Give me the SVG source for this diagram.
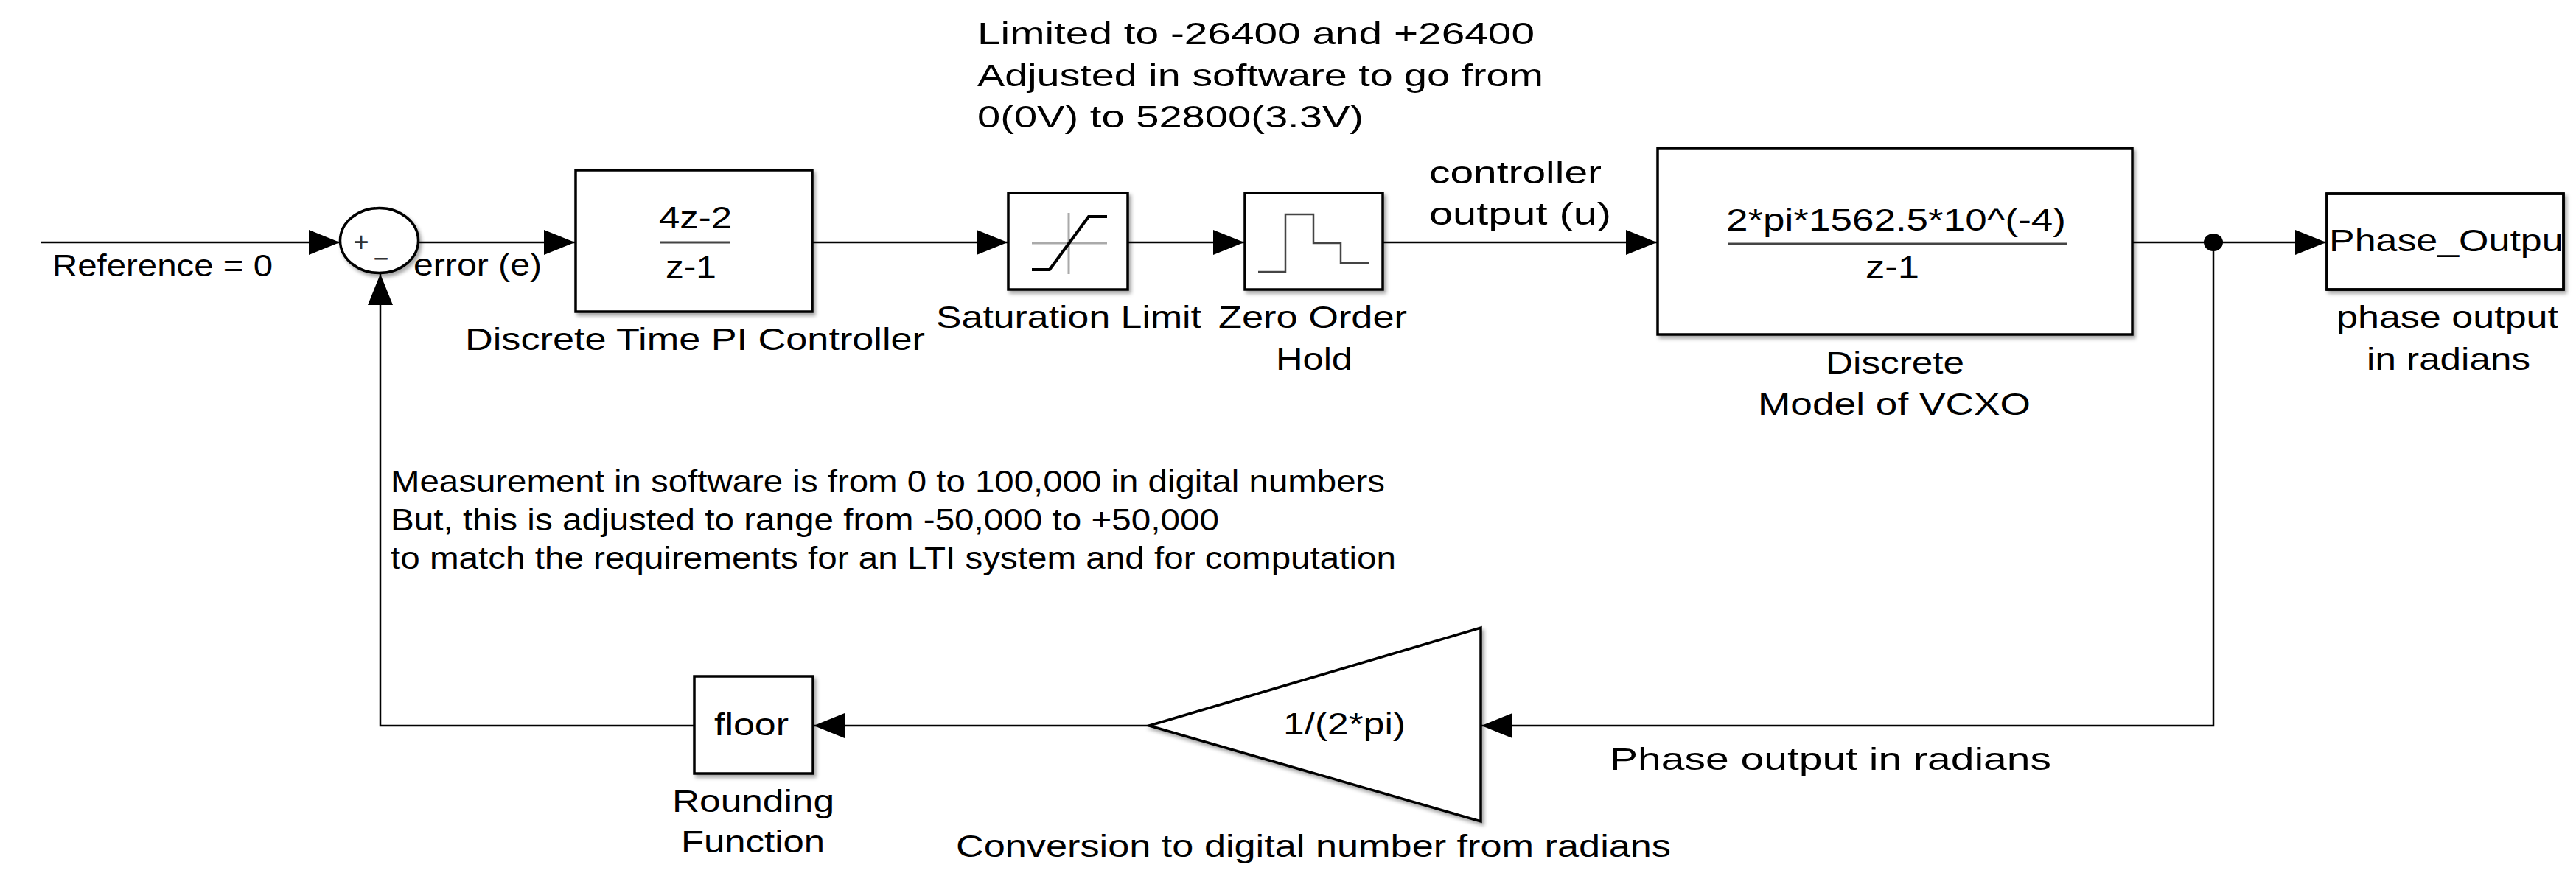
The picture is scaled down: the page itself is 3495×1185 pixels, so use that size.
<svg xmlns="http://www.w3.org/2000/svg" width="3495" height="1185" viewBox="0 0 3495 1185">
<style>
text{font-family:"Liberation Sans",Arial,Helvetica,sans-serif;font-size:42px;fill:#000}
.blk{fill:#fff;stroke:#000;stroke-width:3.5}
.wire{fill:none;stroke:#000;stroke-width:2.5}
.frac{stroke:#444;stroke-width:3}
.gray{fill:none;stroke:#aaa;stroke-width:3}
.icon{fill:none;stroke:#000;stroke-width:4}
.step{fill:none;stroke:#444;stroke-width:2.5}
.sign{font-size:36px;fill:#333}
</style>
<defs>
<marker id="arr" markerUnits="userSpaceOnUse" markerWidth="42" markerHeight="34" refX="42" refY="17" orient="auto" viewBox="0 0 42 34">
<path d="M0,0 L42,17 L0,34 z" fill="#000"/>
</marker>
<filter id="sh" x="-10%" y="-10%" width="130%" height="130%">
<feDropShadow dx="3" dy="4" stdDeviation="2.5" flood-color="#000" flood-opacity="0.35"/>
</filter>
<clipPath id="poclip"><rect x="3157" y="263" width="321" height="130"/></clipPath>
</defs>
<rect width="3495" height="1185" fill="#fff"/>

<g id="connectors">
<path class="wire" d="M56,329 H461" marker-end="url(#arr)"/>
<path class="wire" d="M567,329 H780" marker-end="url(#arr)"/>
<path class="wire" d="M1102,329 H1367" marker-end="url(#arr)"/>
<path class="wire" d="M1530,329 H1688" marker-end="url(#arr)"/>
<path class="wire" d="M1876,329 H2248" marker-end="url(#arr)"/>
<path class="wire" d="M2893,329 H3156" marker-end="url(#arr)"/>
<path class="wire" d="M3003,329 V985 H2010" marker-end="url(#arr)"/>
<path class="wire" d="M1559,985 H1104" marker-end="url(#arr)"/>
<path class="wire" d="M942,985 H516 V372" marker-end="url(#arr)"/>
<ellipse cx="3003" cy="329" rx="13" ry="12" fill="#000"/>
</g>

<g id="sum">
<ellipse cx="514.5" cy="326.5" rx="53" ry="44" class="blk" stroke-width="3" filter="url(#sh)"/>
<text class="sign" x="490" y="341" text-anchor="middle">+</text>
<text class="sign" x="517" y="363" text-anchor="middle">−</text>
</g>

<g id="pi_controller">
<rect class="blk" x="781" y="231" width="321" height="192" filter="url(#sh)"/>
<text x="894" y="310" textLength="99" lengthAdjust="spacingAndGlyphs">4z-2</text>
<line class="frac" x1="895" y1="329" x2="991" y2="329"/>
<text x="903" y="377" textLength="69" lengthAdjust="spacingAndGlyphs">z-1</text>
<text x="631" y="475" textLength="624" lengthAdjust="spacingAndGlyphs">Discrete Time PI Controller</text>
</g>

<g id="saturation">
<rect class="blk" x="1368" y="262" width="162" height="131" filter="url(#sh)"/>
<line class="gray" x1="1400" y1="330" x2="1502" y2="330"/>
<line class="gray" x1="1450" y1="289" x2="1450" y2="372"/>
<polyline class="icon" points="1400,366 1424,366 1477,294 1502,294"/>
<text x="1270" y="445" textLength="360" lengthAdjust="spacingAndGlyphs">Saturation Limit</text>
</g>

<g id="zoh">
<rect class="blk" x="1689" y="262" width="187" height="131" filter="url(#sh)"/>
<polyline class="step" points="1707,369 1744,369 1744,291 1782,291 1782,330 1819,330 1819,357 1857,357"/>
<text x="1653" y="445" textLength="256" lengthAdjust="spacingAndGlyphs">Zero Order</text>
<text x="1731" y="502" textLength="104" lengthAdjust="spacingAndGlyphs">Hold</text>
</g>

<g id="controller_label">
<text x="1939" y="249" textLength="234" lengthAdjust="spacingAndGlyphs">controller</text>
<text x="1939" y="305" textLength="247" lengthAdjust="spacingAndGlyphs">output (u)</text>
</g>

<g id="vcxo">
<rect class="blk" x="2249" y="201" width="644" height="253" filter="url(#sh)"/>
<text x="2342" y="313" textLength="461" lengthAdjust="spacingAndGlyphs">2*pi*1562.5*10^(-4)</text>
<line class="frac" x1="2345" y1="331" x2="2805" y2="331"/>
<text x="2531" y="377" textLength="73" lengthAdjust="spacingAndGlyphs">z-1</text>
<text x="2477" y="507" textLength="188" lengthAdjust="spacingAndGlyphs">Discrete</text>
<text x="2385" y="563" textLength="370" lengthAdjust="spacingAndGlyphs">Model of VCXO</text>
</g>

<g id="phase_output">
<rect class="blk" x="3157" y="263" width="321" height="130" filter="url(#sh)"/>
<text x="3160" y="341" textLength="332" lengthAdjust="spacingAndGlyphs" clip-path="url(#poclip)">Phase_Output</text>
<rect x="3157" y="263" width="321" height="130" fill="none" stroke="#000" stroke-width="3.5"/>
<text x="3170" y="445" textLength="301" lengthAdjust="spacingAndGlyphs">phase output</text>
<text x="3211" y="502" textLength="222" lengthAdjust="spacingAndGlyphs">in radians</text>
</g>

<g id="gain">
<polygon class="blk" points="2009,852 2009,1115 1559,985" stroke-width="3" filter="url(#sh)"/>
<text x="1741" y="997" textLength="166" lengthAdjust="spacingAndGlyphs">1/(2*pi)</text>
<text x="1297" y="1163" textLength="970" lengthAdjust="spacingAndGlyphs">Conversion to digital number from radians</text>
</g>

<g id="floor">
<rect class="blk" x="942" y="918" width="161" height="132" filter="url(#sh)"/>
<text x="969" y="998" textLength="101" lengthAdjust="spacingAndGlyphs">floor</text>
<text x="912" y="1102" textLength="220" lengthAdjust="spacingAndGlyphs">Rounding</text>
<text x="924" y="1157" textLength="195" lengthAdjust="spacingAndGlyphs">Function</text>
</g>

<g id="labels">
<text x="71" y="375" textLength="299" lengthAdjust="spacingAndGlyphs">Reference = 0</text>
<text x="561" y="374" textLength="174" lengthAdjust="spacingAndGlyphs">error (e)</text>
<text x="2184" y="1045" textLength="599" lengthAdjust="spacingAndGlyphs">Phase output in radians</text>
</g>

<g id="saturation_note">
<text x="1326" y="60" textLength="756" lengthAdjust="spacingAndGlyphs">Limited to -26400 and +26400</text>
<text x="1326" y="117" textLength="768" lengthAdjust="spacingAndGlyphs">Adjusted in software to go from</text>
<text x="1326" y="173" textLength="524" lengthAdjust="spacingAndGlyphs">0(0V) to 52800(3.3V)</text>
</g>

<g id="measurement_note">
<text x="530" y="668" textLength="1349" lengthAdjust="spacingAndGlyphs">Measurement in software is from 0 to 100,000 in digital numbers</text>
<text x="530" y="720" textLength="1124" lengthAdjust="spacingAndGlyphs">But, this is adjusted to range from -50,000 to +50,000</text>
<text x="530" y="772" textLength="1364" lengthAdjust="spacingAndGlyphs">to match the requirements for an LTI system and for computation</text>
</g>
</svg>
